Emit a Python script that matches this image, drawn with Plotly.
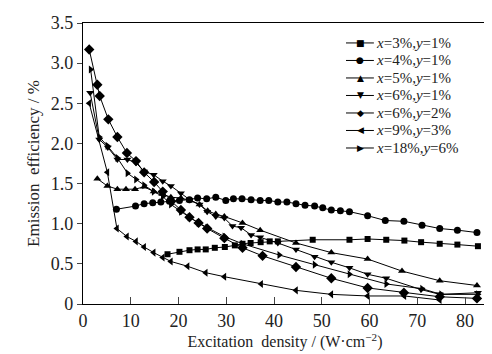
import plotly.graph_objects as go

# x=3%, y=1%
sq_x = [17.7, 20.2, 22.3, 24.0, 25.7, 27.6, 29.7, 31.8, 33.4, 35.1, 37.2, 39.1, 40.8, 48.1, 55.8, 59.6, 63.5, 67.3, 70.8, 74.7, 78.4, 82.7]
sq_y = [0.62, 0.65, 0.67, 0.68, 0.68, 0.70, 0.71, 0.73, 0.75, 0.76, 0.77, 0.78, 0.78, 0.80, 0.80, 0.81, 0.80, 0.79, 0.77, 0.75, 0.74, 0.72]
# x=4%, y=1%
ci_x = [7.0, 11.0, 12.8, 14.6, 16.3, 18.1, 20.2, 22.3, 24.0, 25.9, 27.8, 29.9, 31.5, 33.3, 35.2, 37.1, 38.9, 40.8, 42.7, 44.6, 46.5, 48.5, 50.2, 52.0, 53.9, 55.8, 59.6, 63.3, 67.2, 71.0, 74.7, 78.4, 82.5]
ci_y = [1.18, 1.22, 1.25, 1.26, 1.27, 1.28, 1.29, 1.30, 1.32, 1.31, 1.33, 1.29, 1.31, 1.31, 1.30, 1.29, 1.29, 1.27, 1.27, 1.25, 1.23, 1.22, 1.20, 1.17, 1.16, 1.15, 1.10, 1.04, 1.03, 0.98, 0.94, 0.92, 0.89]
# x=5%, y=1%
tu_x = [3.0, 5.1, 7.2, 9.0, 10.9, 12.8, 14.8, 16.6, 18.4, 20.5, 22.3, 24.4, 26.1, 27.8, 29.6, 33.4, 37.1, 44.6, 52.0, 59.6, 66.8, 74.7, 82.5]
tu_y = [1.56, 1.47, 1.43, 1.43, 1.43, 1.46, 1.40, 1.37, 1.33, 1.32, 1.29, 1.24, 1.16, 1.12, 1.09, 1.01, 0.92, 0.76, 0.64, 0.56, 0.41, 0.29, 0.23]
# x=6%, y=1%
td_x = [1.5, 3.4, 5.2, 7.2, 9.3, 11.1, 12.8, 14.8, 16.7, 18.4, 20.5, 22.3, 24.4, 26.0, 27.8, 29.6, 31.3, 33.1, 35.2, 37.1, 40.8, 44.6, 48.5, 52.0, 55.8, 59.6, 63.5, 70.8, 74.7, 82.7]
td_y = [2.63, 2.05, 1.95, 1.80, 1.80, 1.76, 1.65, 1.61, 1.53, 1.47, 1.38, 1.30, 1.24, 1.15, 1.09, 1.07, 0.97, 0.95, 0.86, 0.83, 0.76, 0.68, 0.59, 0.52, 0.45, 0.37, 0.32, 0.18, 0.12, 0.14]
# x=6%, y=2%
di_x = [1.3, 3.0, 3.5, 5.3, 7.2, 9.2, 11.1, 12.8, 14.9, 16.7, 18.5, 20.5, 22.3, 24.2, 26.0, 29.6, 33.4, 37.6, 44.6, 52.0, 59.6, 67.2, 74.7, 82.5]
di_y = [3.17, 2.73, 2.59, 2.30, 2.08, 1.88, 1.78, 1.64, 1.52, 1.40, 1.28, 1.17, 1.08, 1.01, 0.94, 0.82, 0.70, 0.60, 0.46, 0.32, 0.20, 0.14, 0.09, 0.07]
# x=9%, y=3%
tl_x = [1.3, 5.1, 7.1, 9.2, 11.1, 12.8, 14.8, 16.7, 18.4, 21.9, 25.7, 29.6, 37.3, 44.6, 52.0, 59.6, 67.3, 74.7]
tl_y = [2.50, 1.64, 0.94, 0.84, 0.78, 0.71, 0.64, 0.58, 0.53, 0.47, 0.39, 0.34, 0.25, 0.17, 0.12, 0.10, 0.10, 0.05]
# x=18%, y=6%
tr_x = [1.6, 3.4, 5.1, 7.2, 9.3, 11.1, 12.8, 14.8, 16.7, 18.4, 20.5, 22.3, 24.2, 26.0, 29.6, 33.4, 41.1, 48.5, 55.8, 63.5, 71.0, 75.0, 82.7]
tr_y = [2.92, 2.08, 1.97, 1.82, 1.63, 1.55, 1.48, 1.40, 1.34, 1.24, 1.15, 1.08, 1.01, 0.95, 0.84, 0.75, 0.61, 0.49, 0.37, 0.25, 0.19, 0.12, 0.12]

legend_labels = ["<i>x</i>=3%,<i>y</i>=1%", "<i>x</i>=4%,<i>y</i>=1%", "<i>x</i>=5%,<i>y</i>=1%",
                 "<i>x</i>=6%,<i>y</i>=1%", "<i>x</i>=6%,<i>y</i>=2%", "<i>x</i>=9%,<i>y</i>=3%",
                 "<i>x</i>=18%,<i>y</i>=6%"]
legend_glyphs = ["■", "●", "▲", "▼", "◆", "◀", "▶"]

series = [
    (sq_x, sq_y, "square", 6),
    (ci_x, ci_y, "circle", 7),
    (tu_x, tu_y, "triangle-up", 7),
    (td_x, td_y, "triangle-down", 7),
    (di_x, di_y, "diamond", 8),
    (tl_x, tl_y, "triangle-left", 7),
    (tr_x, tr_y, "triangle-right", 7),
]

fig = go.Figure()
for (xs, ys, sym, sz), name in zip(series, legend_labels):
    fig.add_trace(go.Scatter(
        x=xs, y=ys, name=name, mode="lines+markers",
        line=dict(color="black", width=1),
        marker=dict(symbol=sym, size=sz, color="black"),
        showlegend=False,
    ))

font_family = "Liberation Serif"

# compact legend, drawn in paper coordinates
row0, step = 0.929, 0.0623
lx0, lx1, lmid, ltxt = 0.651, 0.720, 0.686, 0.722
for i, (lab, g) in enumerate(zip(legend_labels, legend_glyphs)):
    yy = row0 - i * step
    fig.add_shape(type="line", xref="paper", yref="paper", x0=lx0, x1=lx1, y0=yy, y1=yy,
                  line=dict(color="black", width=1))
    fig.add_annotation(xref="paper", yref="paper", x=lmid, y=yy, text=g, showarrow=False,
                       xanchor="center", yanchor="middle", borderpad=0,
                       font=dict(family="DejaVu Sans", size=9, color="black"))
    fig.add_annotation(xref="paper", yref="paper", x=ltxt, y=yy, text=lab, showarrow=False,
                       xanchor="left", yanchor="middle", borderpad=0,
                       font=dict(family=font_family, size=15, color="#222"))

fig.update_layout(
    width=492, height=354,
    margin=dict(l=75, r=13, t=15, b=58, autoexpand=False),
    paper_bgcolor="white", plot_bgcolor="white",
    font=dict(family=font_family, size=18, color="#222"),
    showlegend=False,
    xaxis=dict(
        range=[0, 84.6], tickvals=[0, 10, 20, 30, 40, 50, 60, 70, 80],
        ticks="inside", ticklen=7, tickcolor="#444",
        showline=True, linecolor="black", linewidth=1.2, mirror=True,
        showgrid=False, zeroline=False, automargin=False,
        title=dict(text="Excitation  density / (W·cm<sup>−2</sup>)", standoff=6,
                   font=dict(family=font_family, size=16)),
    ),
    yaxis=dict(
        range=[0, 3.5], tickvals=[0, 0.5, 1.0, 1.5, 2.0, 2.5, 3.0, 3.5],
        ticktext=["0", "0.5", "1.0", "1.5", "2.0", "2.5", "3.0", "3.5"],
        ticks="outside", ticklen=5, tickcolor="#444",
        showline=True, linecolor="black", linewidth=1.2, mirror=True,
        showgrid=False, zeroline=False, automargin=False,
        title=dict(text="Emission  efficiency / %", standoff=6,
                   font=dict(family=font_family, size=17)),
    ),
)

fig.write_html("out.html")
